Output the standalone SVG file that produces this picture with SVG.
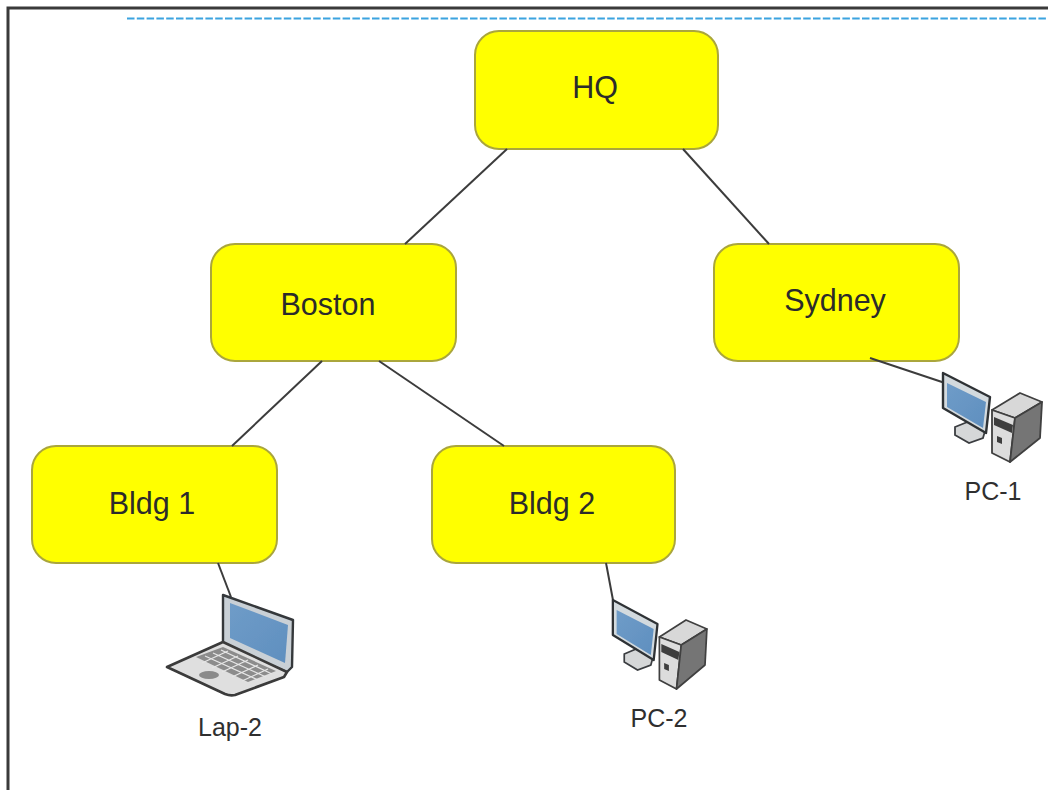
<svg xmlns="http://www.w3.org/2000/svg" xmlns:xlink="http://www.w3.org/1999/xlink" width="1048" height="790" viewBox="0 0 1048 790">
<style>
.box{fill:#ffff00;stroke:#aaa63c;stroke-width:2}
.t{font-family:"Liberation Sans",Arial,sans-serif;font-size:30.500px;fill:#2b2b2b;text-anchor:middle}
.l{font-family:"Liberation Sans",Arial,sans-serif;font-size:25px;fill:#2f2f2f;text-anchor:middle}
.c{stroke:#3c3c3c;stroke-width:2;fill:none}
.soft{filter:url(#soft)}
</style>
<defs>
<filter id="soft" x="-5%" y="-5%" width="110%" height="110%"><feGaussianBlur stdDeviation="0.600"/></filter>
<linearGradient id="scr" x1="0" y1="0" x2="1" y2="1"><stop offset="0" stop-color="#6f9cc8"/><stop offset="1" stop-color="#5f8fbf"/></linearGradient>
<g id="pc">
<path d="M955 427 L970 421 L985 431 L983 438 L969 443 L955 435Z" fill="#d5d7d8" stroke="#3a3d40" stroke-width="1.800"/>
<path d="M943 373 L990 397 L986 433 L943 408Z" fill="#d3dade" stroke="#2f3336" stroke-width="2.400" stroke-linejoin="round"/>
<path d="M947 383 L986 402 L983 428 L947 407Z" fill="url(#scr)"/>
<path d="M992 410 L1020 393 L1042 402 L1015 418Z" fill="#d8d8d8" stroke="#3f3f3f" stroke-width="1.800" stroke-linejoin="round"/>
<path d="M992 410 L1015 418 L1010 462 L992 453Z" fill="#dcdcdc" stroke="#3f3f3f" stroke-width="1.800" stroke-linejoin="round"/>
<path d="M1015 418 L1042 402 L1040 438 L1010 462Z" fill="#757575" stroke="#3f3f3f" stroke-width="1.800" stroke-linejoin="round"/>
<path d="M994 417 L1013 425 L1012 433 L994 425Z" fill="#3d3d3d"/>
<path d="M997 436 L1002 438 L1002 444 L997 442Z" fill="#3d3d3d"/>
</g>
</defs>
<rect width="1048" height="790" fill="#ffffff"/>
<path d="M8 790 L8 8 L1048 8" fill="none" stroke="#3a3a3a" stroke-width="3"/>
<line x1="127" y1="18.500" x2="1048" y2="18.500" stroke="#3ba3e0" stroke-width="2.200" stroke-dasharray="7.500 2.300"/>
<g id="hq"><rect class="box" x="475" y="31" width="243" height="118" rx="24"/><text class="t" x="595" y="98">HQ</text></g>
<g id="boston"><rect class="box" x="211" y="244" width="245" height="117" rx="24"/><text class="t" x="328" y="315">Boston</text></g>
<g id="sydney"><rect class="box" x="714" y="244" width="245" height="117" rx="24"/><text class="t" x="835" y="311">Sydney</text></g>
<g id="bldg1"><rect class="box" x="32" y="446" width="245" height="117" rx="24"/><text class="t" x="152" y="514">Bldg 1</text></g>
<g id="bldg2"><rect class="box" x="432" y="446" width="243" height="117" rx="24"/><text class="t" x="552" y="514">Bldg 2</text></g>
<g id="connectors">
<line class="c" x1="507" y1="149" x2="405" y2="244"/>
<line class="c" x1="683" y1="149" x2="769" y2="244"/>
<line class="c" x1="322" y1="361" x2="232" y2="446"/>
<line class="c" x1="379" y1="361" x2="504" y2="446"/>
<line class="c" x1="218" y1="563" x2="231" y2="597"/>
<line class="c" x1="606" y1="563" x2="613" y2="600"/>
<line class="c" x1="870" y1="358" x2="945" y2="383"/>
</g>
<g id="lap-2">
<g class="soft">
<path d="M223 595 L293 620 L292 667 L287 672 L223 645Z" fill="#c9d0d6" stroke="#34383b" stroke-width="2.400" stroke-linejoin="round"/>
<path d="M230 603 L288 625 L285 663 L230 638Z" fill="url(#scr)"/>
<path d="M167 667 L223 642 L287 672 L284 677 L235 695 Q230 696 225 694 Z" fill="#dfdfdf" stroke="#3a3a3a" stroke-width="2.600" stroke-linejoin="round"/>
<path d="M196 657 L223 647 L276 671 L248 682Z" fill="#8c8c8c"/>
<path d="M205 656 L258 680 M213 653 L266 677 M221 650 L272 674 M202 663 L228 651 M212 668 L238 656 M222 672 L248 660 M232 677 L258 665 M242 681 L268 669" stroke="#e6e6e6" stroke-width="1.300" fill="none"/>
<ellipse cx="209" cy="675" rx="10" ry="4" fill="#8a8a8a"/>
</g>
<text class="l" x="230" y="736">Lap-2</text>
</g>
<g id="pc-2">
<use class="soft" href="#pc" xlink:href="#pc" transform="translate(-283 227) scale(0.950 1)"/>
<text class="l" x="659" y="727">PC-2</text>
</g>
<g id="pc-1">
<use class="soft" href="#pc" xlink:href="#pc"/>
<text class="l" x="993" y="500">PC-1</text>
</g>
</svg>
